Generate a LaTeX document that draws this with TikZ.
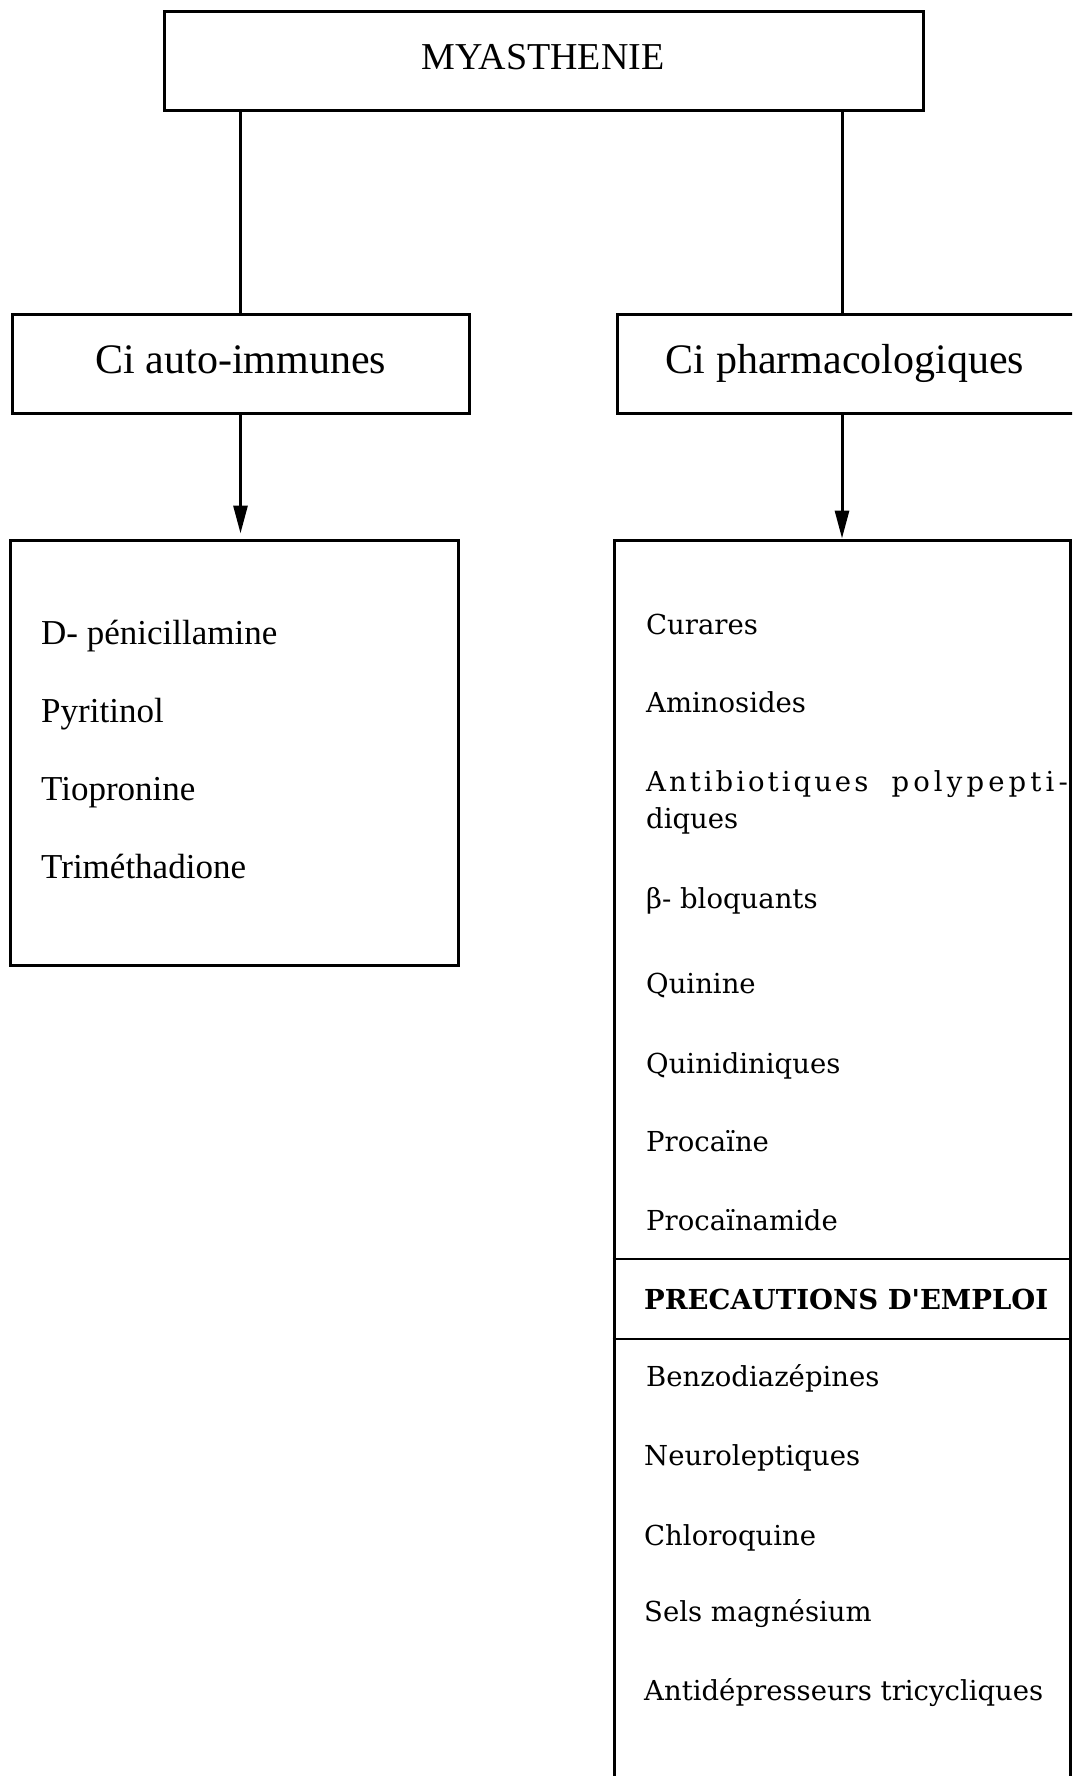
\documentclass[tikz,border=0pt]{standalone}
\usepackage{fontspec}
\setmainfont{Liberation Serif}
\newfontfamily\widefont{DejaVu Serif}
\usetikzlibrary{arrows.meta}
\begin{document}
\begin{tikzpicture}[x=1pt,y=-1pt,
  box/.style={draw, line width=3pt, rectangle, inner sep=0pt},
  conn/.style={line width=3pt},
  arr/.style={line width=3pt, -{Triangle[length=28pt,width=14pt]}},
  sep/.style={line width=1.6pt},
  ttl/.style={anchor=base, inner sep=0pt, font=\fontsize{38}{42}\selectfont},
  cat/.style={anchor=base, inner sep=0pt, font=\fontsize{42}{46}\selectfont},
  litem/.style={anchor=base west, inner sep=0pt, font=\fontsize{35}{40}\selectfont},
  ritem/.style={anchor=base west, inner sep=0pt, font=\widefont\fontsize{27.5}{32}\selectfont},
  rhead/.style={anchor=base west, inner sep=0pt, font=\widefont\bfseries\fontsize{27.5}{32}\selectfont}
]
\clip (0,0) rectangle (1072,1776);
\fill[white] (0,0) rectangle (1072,1776);

% boxes
\node[box, minimum width=759pt, minimum height=99pt] (myas) at (543.5,61.5) {};
\node[box, minimum width=457pt, minimum height=98pt] (ciauto) at (240.5,364) {};
\node[box, minimum width=468pt, minimum height=98pt] (ciph) at (851,364) {};
\node[box, minimum width=448pt, minimum height=425pt] (lbox) at (234,752.5) {};
\node[box, minimum width=456pt, minimum height=1260pt] (rbox) at (842,1170) {};

% titles
\node[ttl] (tmyas) at (543,70) {MYASTHENIE};
\node[cat] (tciauto) at (241,373.5) {Ci auto-immunes};
\node[cat] (tciph) at (845,373) {Ci pharmacologiques};

% connectors
\draw[conn] (ciauto.north |- myas.south) -- (ciauto.north);
\draw[conn] (rbox.north |- myas.south) -- (rbox.north |- ciph.north);
\draw[arr, shorten >=5pt] (ciauto.south) -- (ciauto.south |- lbox.north);
\draw[arr] (rbox.north |- ciph.south) -- (rbox.north);

% separators
\coordinate (s1) at (0,1259);
\coordinate (s2) at (0,1339);
\draw[sep] (rbox.west |- s1) -- (rbox.east |- s1);
\draw[sep] (rbox.west |- s2) -- (rbox.east |- s2);

% left list
\node[litem] (l1) at (41,644) {D- pénicillamine};
\node[litem] (l2) at (41,722) {Pyritinol};
\node[litem] (l3) at (41,800) {Tiopronine};
\node[litem] (l4) at (41,878) {Triméthadione};

% right list
\node[ritem] (r1) at (646,634) {Curares};
\node[ritem] (r2) at (646,712) {Aminosides};
\node[ritem, font=\widefont\fontsize{27.5}{32}\selectfont\addfontfeature{LetterSpace=11}] (r3a) at (646,791) {Antibiotiques};
\node[ritem, anchor=base east, font=\widefont\fontsize{27.5}{32}\selectfont\addfontfeature{LetterSpace=15}] (r3b) at (1068,791) {polypepti-};
\node[ritem] (r3c) at (646,828) {diques};
\node[ritem] (r4) at (646,908) {β- bloquants};
\node[ritem] (r5) at (646,993) {Quinine};
\node[ritem] (r6) at (646,1073) {Quinidiniques};
\node[ritem] (r7) at (646,1151) {Procaïne};
\node[ritem] (r8) at (646,1230) {Procaïnamide};
\node[rhead] (r9) at (644,1309) {PRECAUTIONS D'EMPLOI};
\node[ritem] (r10) at (646,1386) {Benzodiazépines};
\node[ritem] (r11) at (644,1465) {Neuroleptiques};
\node[ritem] (r12) at (644,1545) {Chloroquine};
\node[ritem] (r13) at (644,1621) {Sels magnésium};
\node[ritem] (r14) at (644,1700) {Antidépresseurs tricycliques};
\end{tikzpicture}
\end{document}
